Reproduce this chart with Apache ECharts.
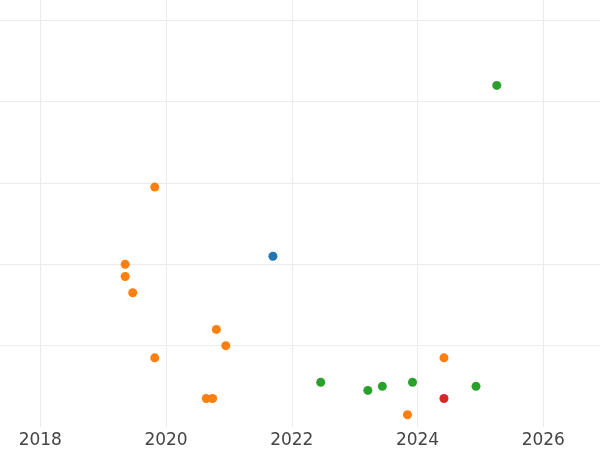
<!DOCTYPE html>
<html>
<head>
<meta charset="utf-8">
<script src="https://cdn.jsdelivr.net/npm/echarts@6/dist/echarts.min.js"></script>
<style>html,body{margin:0;padding:0;background:#fff}#c{width:600px;height:450px}</style>
</head>
<body>
<div id="c"></div>
<script>
// Data (decimal year, value)
var blueX = [2021.70];
var blueY = [21.0];
var orangeX = [2019.35, 2019.35, 2019.47, 2019.82, 2020.80, 2020.95, 2019.82, 2020.64, 2020.74, 2024.42, 2023.84];
var orangeY = [20.0, 18.5, 16.5, 29.5, 12.0, 10.0, 8.5, 3.5, 3.5, 8.5, 1.5];
var greenX = [2025.26, 2022.46, 2023.21, 2023.44, 2023.92, 2024.93];
var greenY = [42.0, 5.5, 4.5, 5.0, 5.5, 5.0];
var redX = [2024.42];
var redY = [3.5];
var xTickLabels = ['2018', '2020', '2022', '2024', '2026'];

function pairs(xs, ys) { return xs.map(function (x, i) { return [x, ys[i]]; }); }

var grid = '#ebebeb';
var chart = echarts.init(document.getElementById('c'), null, {renderer: 'canvas'});
chart.setOption({
  animation: false,
  backgroundColor: '#ffffff',
  grid: {left: 0, right: 0, top: 0, bottom: 23, containLabel: false},
  xAxis: {
    type: 'value', min: 2017.359, max: 2026.902, splitNumber: 5,
    axisLine: {show: false}, axisTick: {show: false},
    axisLabel: {show: true, showMinLabel: false, showMaxLabel: false, color: '#444', fontSize: 17,
      fontFamily: 'DejaVu Sans', margin: 5,
      formatter: function (v) { var s = String(Math.round(v)); return xTickLabels.indexOf(s) >= 0 ? s : ''; }},
    splitLine: {show: true, showMinLine: false, showMaxLine: false, lineStyle: {color: grid, width: 1}}
  },
  yAxis: {
    type: 'value', min: 0, max: 52.5, interval: 10,
    axisLine: {show: false}, axisTick: {show: false}, axisLabel: {show: false},
    splitLine: {show: true, showMinLine: false, showMaxLine: false, lineStyle: {color: grid, width: 1}}
  },
  series: [
    {type: 'scatter', data: pairs(blueX, blueY), symbolSize: 9, itemStyle: {color: '#1f77b4', opacity: 1}},
    {type: 'scatter', data: pairs(orangeX, orangeY), symbolSize: 9, itemStyle: {color: '#ff7f0e', opacity: 1}},
    {type: 'scatter', data: pairs(greenX, greenY), symbolSize: 9, itemStyle: {color: '#2ca02c', opacity: 1}},
    {type: 'scatter', data: pairs(redX, redY), symbolSize: 9, itemStyle: {color: '#d62728', opacity: 1}}
  ]
});
</script>
</body>
</html>
